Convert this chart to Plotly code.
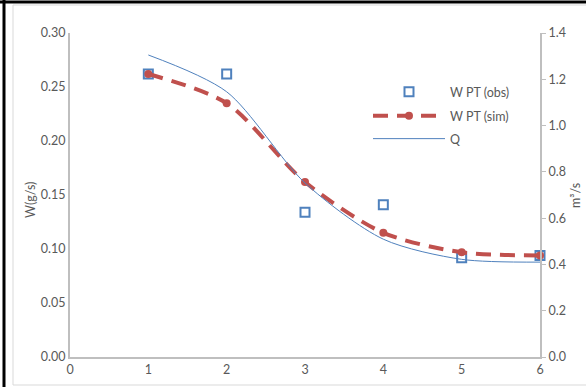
import plotly.graph_objects as go

x_vals = [1, 2, 3, 4, 5, 6]
w_obs = [0.262, 0.262, 0.134, 0.141, 0.092, 0.094]
w_sim = [0.262, 0.235, 0.162, 0.115, 0.097, 0.094]
q_vals = [1.305, 1.146, 0.752, 0.509, 0.422, 0.410]

left_ticks = [0.00, 0.05, 0.10, 0.15, 0.20, 0.25, 0.30]
right_ticks = [0.0, 0.2, 0.4, 0.6, 0.8, 1.0, 1.2, 1.4]
x_ticks = [0, 1, 2, 3, 4, 5, 6]

W, H = 586, 387
L, R, T, B = 70, 46, 33, 30
PW, PH = W - L - R, H - T - B

def px(x):
    return (x - L) / PW

def py(y):
    return (H - B - y) / PH

FONT = "Lato"
FS = 12.5
GRAY = "#595959"
AXIS = "#BFBFBF"

fig = go.Figure()
fig.add_trace(go.Scatter(
    x=x_vals, y=q_vals, name="Q", mode="lines", yaxis="y2", legend="legend3", cliponaxis=False,
    line=dict(color="#4F81BD", width=1, shape="spline", smoothing=0.8),
))
fig.add_trace(go.Scatter(
    x=x_vals, y=w_obs, name="W PT (obs)", mode="markers", legend="legend", cliponaxis=False,
    marker=dict(symbol="square-open", size=9, color="#4F81BD", line=dict(width=2, color="#4F81BD")),
))
fig.add_trace(go.Scatter(
    x=x_vals, y=w_sim, name="W PT (sim)", mode="lines+markers", legend="legend2", cliponaxis=False,
    line=dict(color="#C0504D", width=4, dash="15px,9px", shape="spline", smoothing=0.8),
    marker=dict(symbol="circle", size=8, color="#C0504D"),
))

shapes = [
    dict(type="line", xref="paper", yref="paper", x0=px(4), x1=px(4), y0=py(0), y1=py(H), line=dict(color="black", width=3)),
    dict(type="line", xref="paper", yref="paper", x0=px(0), x1=px(W), y0=py(2), y1=py(2), line=dict(color="black", width=3)),
    dict(type="line", xref="paper", yref="paper", x0=px(13), x1=px(13), y0=py(5), y1=py(385), line=dict(color="#D9D9D9", width=1)),
    dict(type="line", xref="paper", yref="paper", x0=px(13), x1=px(W), y0=py(5), y1=py(5), line=dict(color="#D9D9D9", width=1)),
    dict(type="line", xref="paper", yref="paper", x0=px(13), x1=px(W), y0=py(385), y1=py(385), line=dict(color="#D9D9D9", width=1)),
]

annotations = [
    dict(text="W(g/s)", xref="paper", yref="paper", x=px(30), y=py(200), textangle=-90,
         showarrow=False, xanchor="center", yanchor="middle",
         font=dict(family=FONT, size=FS, color=GRAY)),
    dict(text="m³/s", xref="paper", yref="paper", x=px(575), y=py(196), textangle=-90,
         showarrow=False, xanchor="center", yanchor="middle",
         font=dict(family=FONT, size=FS, color=GRAY)),
]

def leg(ypix):
    return dict(x=px(368), y=py(ypix), xanchor="left", yanchor="middle",
                bgcolor="rgba(0,0,0,0)", itemwidth=72,
                font=dict(family=FONT, size=FS, color=GRAY))

fig.update_layout(
    width=W, height=H,
    margin=dict(l=L, r=R, t=T, b=B, pad=0, autoexpand=False),
    paper_bgcolor="white", plot_bgcolor="white",
    font=dict(family=FONT, size=FS, color=GRAY),
    showlegend=True,
    legend=leg(92),
    legend2=leg(116),
    legend3=leg(139),
    xaxis=dict(range=[0, 6], tickvals=x_ticks, showgrid=False, zeroline=False,
               showline=True, linecolor=AXIS, linewidth=2, ticks="", ticklen=0,
               tickfont=dict(family=FONT, size=FS, color=GRAY)),
    yaxis=dict(range=[0, 0.30], tickvals=left_ticks, tickformat=".2f", showgrid=False,
               zeroline=False, showline=True, linecolor=AXIS, linewidth=2, ticks="",
               tickfont=dict(family=FONT, size=FS, color=GRAY)),
    yaxis2=dict(range=[0, 1.4], tickvals=right_ticks, tickformat=".1f", overlaying="y", side="right",
                showgrid=False, zeroline=False, showline=True, linecolor=AXIS, linewidth=2,
                ticks="outside", ticklen=4, tickcolor=AXIS, tickwidth=1,
                tickfont=dict(family=FONT, size=FS, color=GRAY)),
    shapes=shapes,
    annotations=annotations,
)

fig.write_html("out.html", config={"displayModeBar": False},
               post_script="document.body.style.margin='0';document.body.style.overflow='hidden';")
